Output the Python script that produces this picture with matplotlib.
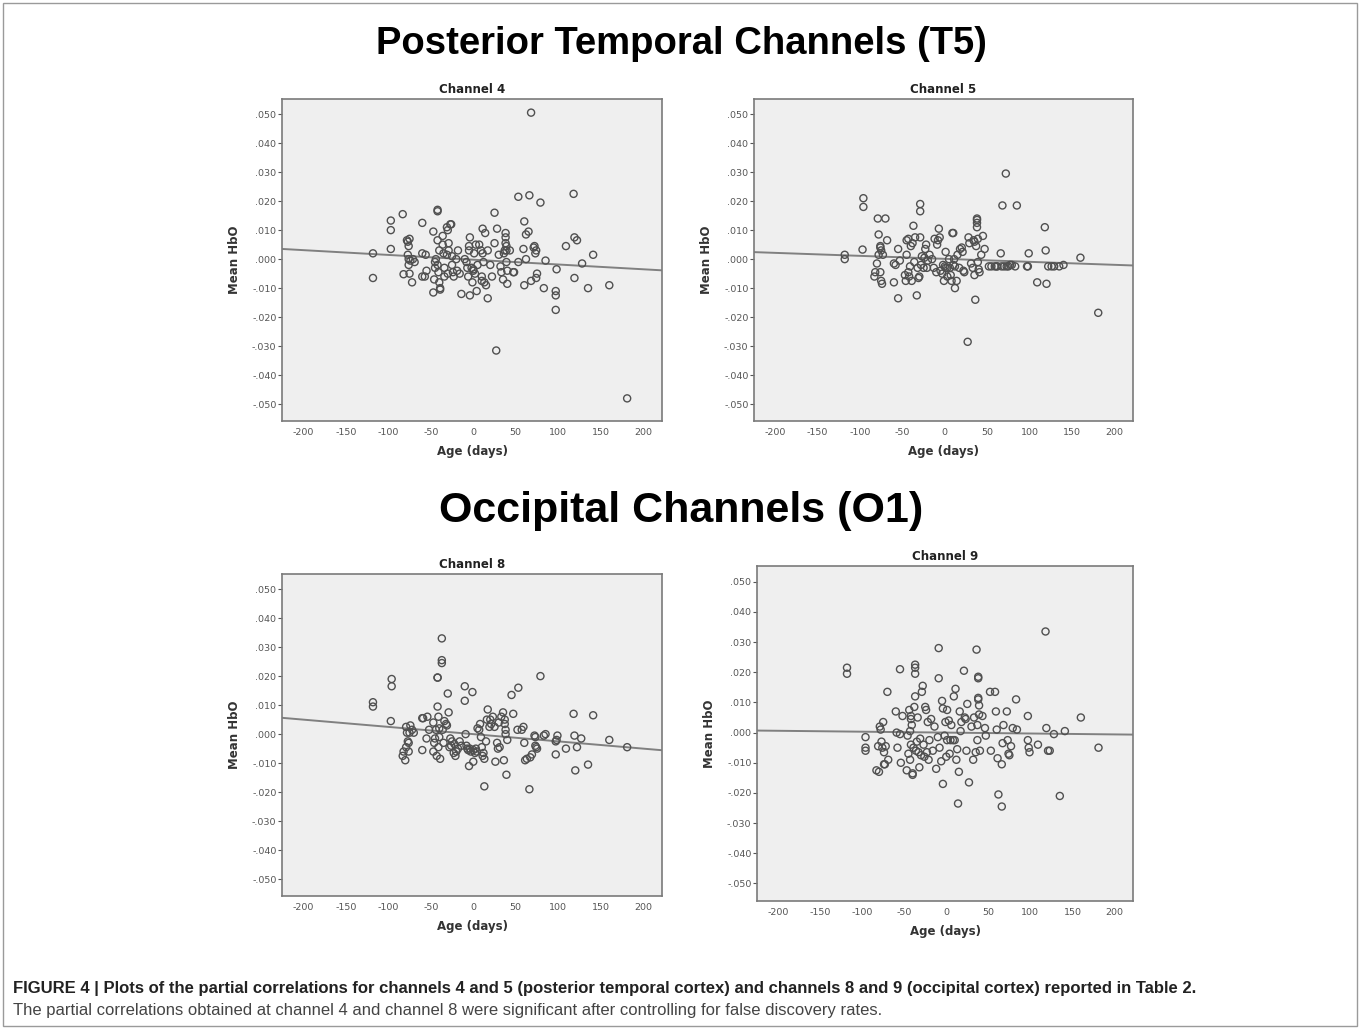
import matplotlib
matplotlib.use("Agg")
import matplotlib.pyplot as plt
import numpy as np
from matplotlib.ticker import FuncFormatter
from matplotlib.patches import Rectangle

plt.rcParams["axes.unicode_minus"] = False

# ---------------- data ----------------
ch4_x = [-118, -118, -97, -97, -97, -83, -82, -78, -77, -76, -75, -77, -76, -74, -76, -75, -72, -71, -69,
         -60, -60, -60, -56, -55, -57, -47, -47, -46, -45, -44, -45, -42, -42, -42, -40, -41, -42, -40, -39, -39,
         -36, -36, -35, -34, -34, -31, -30, -29, -29, -31, -30, -26, -27, -25, -25, -24, -23,
         -20, -19, -18, -16, -14, -10, -8, -7, -6, -5, -5, -4, -4, -2, 0, 0, -1, 2, 1, 3, 5, 4,
         7, 9, 10, 10, 11, 11, 12, 13, 14, 15, 17, 17, 20, 22, 25, 25, 27,
         28, 30, 32, 33, 35, 36, 37, 38, 38, 38, 39, 39, 39, 40, 40, 43,
         47, 48, 53, 53, 59, 60, 60, 62, 62, 65, 66, 68, 68,
         71, 72, 73, 74, 75, 74, 79, 83, 85, 97, 97, 97, 98,
         109, 118, 119, 119, 122, 128, 135, 141, 160, 181]
ch4_y = [0.002, -0.0065, 0.0133, 0.010, 0.0035, 0.0155, -0.0052, 0.0065, 0.006, 0.0045, 0.007, 0.0015, 0.0, -0.0005, -0.002, -0.005, -0.008, 0.0, -0.001,
         0.0125, 0.002, -0.006, 0.0015, -0.004, -0.006, 0.0095, -0.0115, -0.007, -0.001, 0.0, -0.003, 0.017, 0.0165, 0.0065, 0.003, -0.0045, -0.002, -0.008, -0.0105, -0.010,
         0.008, 0.005, 0.002, -0.003, -0.006, 0.011, 0.010, 0.0055, 0.003, 0.0015, -0.005, 0.012, 0.012, 0.001, -0.002, -0.0045, -0.006,
         0.0, -0.004, 0.003, -0.005, -0.012, 0.0, -0.001, -0.003, -0.006, 0.003, 0.0045, -0.0125, 0.0075, -0.003, -0.0035, -0.004, -0.008, -0.005, 0.002, 0.005, -0.002, -0.011,
         0.005, 0.003, -0.006, -0.0075, 0.0105, 0.002, -0.001, -0.008, 0.009, -0.009, -0.0135, 0.003, -0.002, -0.006, 0.016, 0.0055, -0.0315,
         0.0105, 0.0015, -0.0025, -0.0045, -0.007, 0.002, 0.003, 0.009, 0.0075, 0.0055, 0.0045, 0.003, -0.001, -0.004, -0.0085, 0.003,
         -0.0045, -0.0045, 0.0215, -0.001, 0.0035, 0.013, -0.009, 0.0085, 0.0, 0.0095, 0.022, -0.0075, 0.0505,
         0.004, 0.0045, 0.002, 0.003, -0.005, -0.0065, 0.0195, -0.010, -0.0005, -0.011, -0.0125, -0.0175, -0.0035,
         0.0045, 0.0225, 0.0075, -0.0065, 0.0065, -0.0015, -0.010, 0.0015, -0.009, -0.048]

ch5_x = [-118, -118, -96, -96, -97, -83, -82, -80, -79, -78, -78, -76, -76, -75, -76, -75, -74, -73, -70, -68,
         -60, -60, -58, -55, -55, -53, -47, -46, -45, -45, -43, -43, -42, -41, -40, -39, -38, -37, -36, -35,
         -33, -32, -31, -30, -29, -29, -29, -28, -27, -25, -24, -23, -22, -21, -20, -18,
         -15, -13, -12, -10, -9, -8, -7, -6, -5, -3, -2, -1, 0, 1, 1, 3, 3, 5, 6, 7, 8, 9, 10, 10, 11, 12, 12, 14, 15, 17, 18, 20, 21, 22, 23,
         27, 28, 29, 31, 33, 34, 35, 35, 36, 37, 38, 38, 38, 38, 39, 39, 40, 41, 43, 45, 47,
         52, 55, 59, 61, 62, 66, 67, 68, 70, 72, 73, 75, 77, 79, 83, 85,
         97, 98, 99, 109, 118, 119, 120, 122, 126, 129, 135, 140, 160, 181]
ch5_y = [0.0015, 0.0, 0.021, 0.018, 0.0033, -0.006, -0.0045, -0.0015, 0.014, 0.0085, 0.0015, 0.004, 0.0045, 0.003, -0.0045, -0.0075, -0.0085, 0.0015, 0.014, 0.0065,
         -0.008, -0.0015, -0.002, -0.0135, 0.0035, -0.0005, -0.0055, -0.0075, 0.0015, 0.0065, -0.0045, 0.007, -0.006, -0.0025, 0.0045, -0.0075, 0.0055, 0.0115, -0.001, 0.0075,
         -0.0125, -0.003, -0.0065, -0.006, 0.0075, 0.019, 0.0165, -0.002, 0.001, -0.003, 0.0005, 0.0035, 0.005, -0.003, -0.0005, 0.0015,
         0.0, -0.003, 0.007, -0.0045, 0.005, 0.0065, 0.0105, 0.0075, -0.004, -0.005, -0.002, -0.0075, -0.0025, -0.003, 0.0025, -0.003, -0.006, 0.0, -0.003, -0.0055, -0.0075, 0.009, 0.009, -0.002, 0.0, -0.0025, -0.010, -0.0075, 0.0015, -0.003, 0.0035, 0.004, 0.0025, -0.004, -0.0045,
         -0.0285, 0.0075, 0.0055, -0.0015, -0.003, 0.0065, 0.006, -0.0055, -0.014, 0.0045, 0.0135, 0.014, 0.0125, 0.011, 0.007, -0.001, -0.0035, -0.0045, 0.0015, 0.008, 0.0035,
         -0.0025, -0.0025, -0.0025, -0.0025, -0.0025, 0.002, -0.0025, 0.0185, -0.0025, 0.0295, -0.0025, -0.0025, -0.002, -0.002, -0.0025, 0.0185,
         -0.0025, -0.0025, 0.002, -0.008, 0.011, 0.003, -0.0085, -0.0025, -0.0025, -0.0025, -0.0025, -0.002, 0.0005, -0.0185]

ch8_x = [-118, -118, -96, -96, -97, -83, -82, -80, -79, -79, -78, -77, -76, -76, -75, -74, -72, -70,
         -60, -60, -59, -55, -54, -52, -47, -47, -46, -45, -44, -43, -42, -42, -42, -41, -41, -40, -40, -39, -37, -37, -37, -36, -35, -34,
         -32, -31, -30, -29, -28, -27, -26, -25, -23, -22, -21, -20, -18, -16, -14,
         -10, -10, -9, -8, -7, -6, -5, -4, -3, -1, 0, 0, 2, 3, 4, 5, 7, 8, 9, 10, 11, 12, 13, 13, 15, 16, 17, 19, 20, 21, 23, 25, 26, 28, 29, 30, 31, 33, 35, 36, 37, 37, 38, 38, 39, 40,
         45, 47, 52, 53, 57, 59, 60, 61, 63, 66, 67, 69, 72, 73, 73, 74, 75, 79, 83, 85,
         97, 97, 98, 99, 109, 118, 119, 120, 122, 127, 135, 141, 160, 181]
ch8_y = [0.011, 0.0095, 0.019, 0.0165, 0.0045, -0.0075, -0.006, -0.009, -0.0045, 0.0025, 0.0005, -0.0025, -0.003, -0.006, 0.0005, 0.003, 0.0015, 0.0005,
         0.0055, -0.0055, 0.0055, -0.0015, 0.006, 0.0015, 0.004, -0.006, -0.003, -0.0015, 0.0015, -0.0075, 0.0095, 0.0195, 0.0195, 0.006, -0.0045, 0.002, -0.001, -0.0085, 0.033, 0.0255, 0.0245, 0.0015, -0.003, 0.0045,
         0.0035, 0.003, 0.014, 0.0075, -0.0045, -0.0015, -0.004, -0.0025, -0.0065, -0.0035, -0.0075, -0.006, -0.005, -0.0025, -0.004,
         0.0165, 0.0115, 0.0, -0.004, -0.005, -0.0055, -0.011, -0.005, -0.006, 0.0145, -0.0055, -0.0095, -0.0065, -0.005, -0.006, 0.002, 0.0015, 0.0035, -0.001, -0.0045, -0.0075, -0.0065, -0.0085, -0.018, -0.0025, 0.005, 0.0085, 0.0025, 0.005, 0.0035, 0.006, 0.0025, -0.0095, -0.003, -0.005, 0.004, -0.0045, 0.006, 0.0075, -0.009, 0.005, 0.0035, 0.0015, 0.0, -0.014, -0.002,
         0.0135, 0.007, 0.0015, 0.016, 0.0015, 0.0025, -0.003, -0.009, -0.0085, -0.019, -0.008, -0.007, -0.0005, -0.001, -0.004, -0.0045, -0.005, 0.020, -0.0005, 0.0,
         -0.0025, -0.007, -0.002, -0.0005, -0.005, 0.007, -0.0005, -0.0125, -0.0045, -0.0015, -0.0105, 0.0065, -0.002, -0.0045]

ch9_x = [-118, -118, -96, -96, -96, -83, -81, -80, -79, -78, -77, -76, -75, -74, -74, -73, -70, -69, -72,
         -60, -59, -58, -55, -55, -54, -52, -47, -46, -45, -44, -43, -43, -42, -42, -42, -41, -40, -40, -39, -38, -37, -37, -37, -37, -36, -35, -34, -33, -32, -31, -30, -29, -28, -27, -26, -25, -24, -23, -22, -21, -20, -18, -16,
         -14, -12, -10, -9, -9, -8, -6, -5, -4, -4, -2, -1, 0, 1, 1, 3, 4, 5, 6, 8, 9, 10, 11, 12, 13, 14, 15, 16, 17, 18, 21, 22, 23, 24, 25, 27, 30, 32, 33, 35, 36, 37, 37, 38, 38, 38, 38, 39, 39, 40, 43, 46, 47,
         52, 53, 58, 59, 60, 61, 62, 66, 66, 67, 68, 72, 73, 74, 75, 77, 79, 83, 84,
         97, 97, 98, 99, 109, 118, 119, 121, 123, 128, 135, 141, 160, 181]
ch9_y = [0.0215, 0.0195, -0.0015, -0.005, -0.006, -0.0125, -0.0045, -0.013, 0.002, 0.001, -0.003, -0.005, 0.0035, -0.0065, -0.0105, -0.0105, 0.0135, -0.009, -0.0045,
         0.007, 0.0, -0.005, 0.021, -0.0005, -0.010, 0.0055, -0.0125, -0.001, -0.007, 0.0075, 0.0005, -0.009, -0.004, 0.0055, 0.0045, 0.0025, -0.0135, -0.014, -0.005, 0.0085, 0.0225, 0.0215, 0.0195, 0.012, -0.006, -0.003, 0.005, -0.0065, -0.0115, -0.002, -0.0075, 0.0135, 0.0155, -0.004, -0.008, 0.0085, 0.0075, -0.0065, 0.0035, -0.009, -0.0025, 0.0045, -0.006,
         0.002, -0.012, -0.0015, 0.028, 0.018, -0.005, -0.0095, 0.0105, 0.008, -0.017, -0.001, 0.0035, -0.008, 0.0075, -0.0025, 0.004, -0.007, -0.0025, 0.0025, -0.0025, 0.012, -0.0025, 0.0145, -0.009, -0.0055, -0.0235, -0.013, 0.007, 0.0005, 0.0035, 0.0205, 0.005, 0.0045, -0.006, 0.0095, -0.0165, 0.002, -0.009, 0.005, -0.0065, 0.0275, 0.0025, -0.0025, 0.018, 0.0185, 0.0115, 0.011, 0.009, 0.006, -0.006, 0.0055, 0.0015, -0.001,
         0.0135, -0.006, 0.0135, 0.007, 0.001, -0.0085, -0.0205, -0.0245, -0.0105, -0.0035, 0.0025, 0.007, -0.0025, -0.007, -0.0075, -0.0045, 0.0015, 0.011, 0.001,
         0.0055, -0.0025, -0.005, -0.0065, -0.004, 0.0335, 0.0015, -0.006, -0.006, -0.0005, -0.021, 0.0005, 0.005, -0.005]

# fit lines (intercept, slope)
fit_intercepts = [-0.0002, 0.0001, 0.0000, 0.0000]
fit_slopes = [-1.65e-5, -1.03e-5, -2.5e-5, -3.0e-6]

channel_titles = ["Channel 4", "Channel 5", "Channel 8", "Channel 9"]
section_titles = ["Posterior Temporal Channels (T5)", "Occipital Channels (O1)"]
x_ticks = [-200, -150, -100, -50, 0, 50, 100, 150, 200]
y_ticks = [-0.050, -0.040, -0.030, -0.020, -0.010, 0.000, 0.010, 0.020, 0.030, 0.040, 0.050]
x_label = "Age (days)"
y_label = "Mean HbO"
caption_bold = ("FIGURE 4 | Plots of the partial correlations for channels 4 and 5 (posterior temporal cortex) "
                "and channels 8 and 9 (occipital cortex) reported in Table 2.")
caption_text = ("The partial correlations obtained at channel 4 and channel 8 were significant after "
                "controlling for false discovery rates.")

xs = [ch4_x, ch5_x, ch8_x, ch9_x]
ys = [ch4_y, ch5_y, ch8_y, ch9_y]

# ---------------- figure ----------------
W, H = 1360, 1029
fig = plt.figure(figsize=(W / 100, H / 100), dpi=100)
fig.patch.set_facecolor("white")

def px_axes(l, t, r, b):
    return fig.add_axes([l / W, 1 - b / H, (r - l) / W, (b - t) / H])

boxes = [(282, 99, 662, 421), (754, 99, 1133, 421), (282, 574, 662, 896), (757, 566, 1133, 901)]

def yfmt(v, pos):
    if abs(v) < 1e-12:
        return ".000"
    return ("%.3f" % v).replace("0.", ".", 1)

for i, box in enumerate(boxes):
    ax = px_axes(*box)
    ax.set_facecolor("#efefef")
    ax.scatter(xs[i], ys[i], s=26, facecolors="none", edgecolors="#505050", linewidths=1.0, zorder=3)
    xl = np.array([-225, 222])
    ax.plot(xl, fit_intercepts[i] + fit_slopes[i] * xl, color="#808080", lw=1.4, zorder=2)
    ax.set_xlim(-225, 222)
    ax.set_ylim(-0.0558, 0.0552)
    ax.set_xticks(x_ticks)
    ax.set_yticks(y_ticks)
    ax.yaxis.set_major_formatter(FuncFormatter(yfmt))
    ax.tick_params(labelsize=6.8, colors="#555555", length=3, width=0.8, pad=1)
    ax.tick_params(axis="x", length=0, pad=5)
    for sp in ax.spines.values():
        sp.set_color("#7a7a7a")
        sp.set_linewidth(1.2)
    ax.set_title(channel_titles[i], fontsize=8.5, fontweight="bold", pad=4, color="#222222")
    ax.set_xlabel(x_label, fontsize=8.5, fontweight="bold", labelpad=6, color="#333333")
    ax.set_ylabel(y_label, fontsize=8.5, fontweight="bold", labelpad=8, color="#333333")

# section titles
fig.text(681 / W, 1 - 44 / H, section_titles[0], ha="center", va="center",
         fontsize=27.5, fontweight="bold", family="Liberation Sans")
fig.text(681 / W, 1 - 511 / H, section_titles[1], ha="center", va="center",
         fontsize=31, fontweight="bold", family="Liberation Sans")

# caption
fig.text(13 / W, 1 - 988 / H, caption_bold, ha="left", va="center", fontsize=12,
         fontweight="bold", family="Liberation Sans", color="#222222")
fig.text(13 / W, 1 - 1011 / H, caption_text, ha="left", va="center", fontsize=12,
         family="Liberation Sans", color="#444444")

# outer frame
fig.patches.append(Rectangle((3 / W, 3 / H), (W - 6) / W, (H - 6) / H, transform=fig.transFigure,
                             fill=False, edgecolor="#9a9a9a", linewidth=1.0))

fig.savefig("out.png", dpi=100)
